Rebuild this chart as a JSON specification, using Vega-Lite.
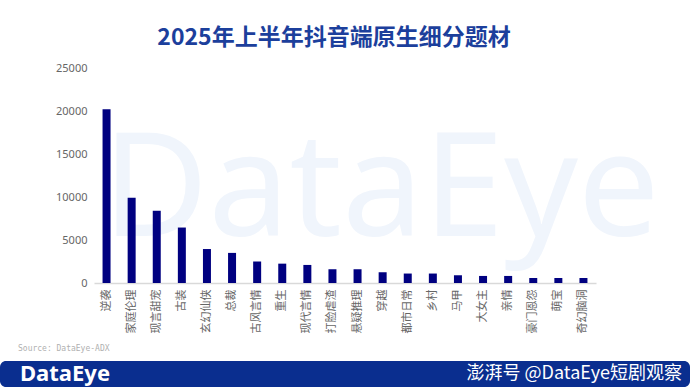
{
  "$schema": "https://vega.github.io/schema/vega-lite/v6.json",
  "padding": {"left": 0, "right": 0, "top": 27, "bottom": 0},
  "bounds": "flush",
  "center": true,
  "spacing": 78,
  "background": "white",
  "config": {"view": {"stroke": null}, "font": "Noto Sans CJK SC"},
  "vconcat": [
    {
      "width": 502,
      "height": 215,
      "title": {"text": "2025年上半年抖音端原生细分题材", "fontSize": 23, "color": "#1c3f9c", "fontWeight": "bold", "offset": 12, "anchor": "middle", "dx": -11, "font": "Noto Sans CJK SC"},
      "data": {"values": [
        {"name": "逆袭", "value": 20200},
        {"name": "家庭伦理", "value": 9900},
        {"name": "现言甜宠", "value": 8400},
        {"name": "古装", "value": 6450},
        {"name": "玄幻仙侠", "value": 3950},
        {"name": "总裁", "value": 3500},
        {"name": "古风言情", "value": 2500},
        {"name": "重生", "value": 2250},
        {"name": "现代言情", "value": 2100},
        {"name": "打脸虐渣", "value": 1600},
        {"name": "悬疑推理", "value": 1600},
        {"name": "穿越", "value": 1250},
        {"name": "都市日常", "value": 1100},
        {"name": "乡村", "value": 1100},
        {"name": "马甲", "value": 900},
        {"name": "大女主", "value": 820},
        {"name": "亲情", "value": 820},
        {"name": "豪门恩怨", "value": 580},
        {"name": "萌宝", "value": 580},
        {"name": "奇幻脑洞", "value": 580}
      ]},
      "layer": [
        {
          "data": {"values": [{"wm": "DataEye"}]},
          "mark": {"type": "text", "fontSize": 145, "font": "Noto Sans", "color": "#f0f5fc", "baseline": "alphabetic", "align": "center", "dx": 36, "dy": 60},
          "encoding": {"text": {"field": "wm"}}
        },
        {
          "mark": {"type": "bar", "color": "#000080", "size": 8},
          "encoding": {
            "x": {"field": "name", "type": "nominal", "sort": null,
                  "axis": {"title": null, "labelAngle": -90, "labelFontSize": 11, "labelColor": "#666666", "ticks": false, "domainColor": "#d9d9d9", "domainWidth": 1.5, "labelPadding": 6, "labelFont": "Noto Sans CJK SC"}},
            "y": {"field": "value", "type": "quantitative",
                  "scale": {"domain": [0, 25000]},
                  "axis": {"title": null, "values": [0, 5000, 10000, 15000, 20000, 25000], "format": "d", "grid": false, "domain": false, "ticks": false, "labelFontSize": 11, "labelColor": "#666666", "labelPadding": 7, "labelFont": "Noto Sans"}}
          }
        }
      ]
    },
    {
      "width": 690,
      "height": 26,
      "view": {"fill": "#0a2e8f", "stroke": null, "cornerRadius": 6},
      "title": {"text": "Source: DataEye-ADX", "anchor": "start", "dx": 18, "fontSize": 8, "font": "DejaVu Sans Mono", "color": "#b0b0b0", "fontWeight": "normal", "offset": 8},
      "data": {"values": [
        {"side": "left", "label": "DataEye"},
        {"side": "right", "label": "澎湃号 @DataEye短剧观察"}
      ]},
      "layer": [
        {
          "transform": [{"filter": "datum.side === 'left'"}],
          "mark": {"type": "text", "color": "white", "fontSize": 22, "font": "Noto Sans", "fontWeight": "bold", "align": "left", "dx": 20, "baseline": "middle"},
          "encoding": {
            "x": {"field": "side", "type": "nominal", "scale": {"type": "point", "domain": ["left", "right"], "padding": 0}, "axis": null},
            "text": {"field": "label"}
          }
        },
        {
          "transform": [{"filter": "datum.side === 'right'"}],
          "mark": {"type": "text", "color": "white", "fontSize": 18, "font": "Noto Sans CJK SC", "align": "right", "dx": -8, "baseline": "middle"},
          "encoding": {
            "x": {"field": "side", "type": "nominal", "scale": {"type": "point", "domain": ["left", "right"], "padding": 0}, "axis": null},
            "text": {"field": "label"}
          }
        }
      ]
    }
  ]
}
